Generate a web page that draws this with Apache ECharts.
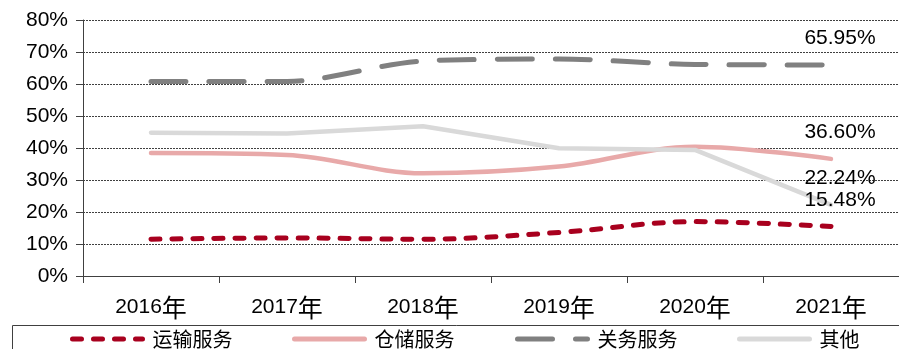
<!DOCTYPE html>
<html><head><meta charset="utf-8">
<script src="https://cdn.jsdelivr.net/npm/echarts@6/dist/echarts.min.js"></script>
<style>html,body{margin:0;padding:0;background:#fff}#c{width:899px;height:349px}</style>
</head><body><div id="c"></div>
<script>
const categories = ['2016年','2017年','2018年','2019年','2020年','2021年'];
const transport = [11.5, 11.9, 11.5, 13.6, 17.0, 15.48];
const storage = [38.4, 37.8, 32.1, 34.2, 40.4, 36.60];
const customs = [60.8, 60.8, 67.2, 67.8, 66.1, 65.95];
const others = [44.8, 44.5, 46.8, 39.9, 39.4, 22.24];
const seriesNames = ['运输服务','仓储服务','关务服务','其他'];
const yTicks = [0, 10, 20, 30, 40, 50, 60, 70, 80];

const FONT = '"Liberation Sans", Arial, sans-serif';
const chart = echarts.init(document.getElementById('c'), null, {renderer:'canvas'});
function endLabel() {
  return {
    show: true, position: 'top', distance: 16, offset: [9, 0],
    color: '#000', fontSize: 21, fontFamily: FONT,
    formatter: p => p.dataIndex === categories.length - 1 ? p.value.toFixed(2) + '%' : ''
  };
}
function mk(name, data, color, width, dash, smooth) {
  return {
    name, type: 'line', data, smooth, symbol: 'circle', symbolSize: 0, showSymbol: true,
    lineStyle: {color, width, type: dash, cap: 'round'},
    itemStyle: {color},
    label: endLabel(), z: 3
  };
}
const legendXs = [70, 292, 515, 737];
chart.setOption({
  animation: false,
  grid: {left: 83, top: 20, width: 824, height: 256},
  xAxis: {
    type: 'category', data: categories,
    axisLine: {lineStyle: {color: '#404040', width: 1}},
    axisTick: {show: true, length: 7, lineStyle: {color: '#404040'}},
    axisLabel: {
      interval: 0,
      color: '#000', fontSize: 21, fontFamily: FONT, margin: 19,
      formatter: v => '{a|' + v.slice(0, 4) + '}{b|' + v.slice(4) + '}',
      rich: {
        a: {fontSize: 21, fontFamily: FONT, color: '#000'},
        b: {fontSize: 25, fontFamily: '"Noto Sans CJK SC", sans-serif', color: '#000'}
      }
    }
  },
  yAxis: {
    type: 'value', min: yTicks[0], max: yTicks[yTicks.length-1], interval: 10,
    axisLine: {show: true, lineStyle: {color: '#404040', width: 1}},
    axisTick: {show: true, length: 7, lineStyle: {color: '#404040'}},
    axisLabel: {color: '#000', fontSize: 21, fontFamily: FONT, margin: 15, formatter: '{value}%'},
    splitLine: {show: true, lineStyle: {color: '#404040', width: 1, type: [2, 1]}}
  },
  graphic: [{
    type: 'rect', shape: {x: 12.5, y: 325.5, width: 900, height: 40},
    style: {fill: 'none', stroke: '#404040', lineWidth: 1}, z: -1
  }],
  legend: seriesNames.map((n, i) => ({
    data: [n], left: legendXs[i], top: 329, padding: 0,
    itemWidth: 70, itemHeight: 14, itemGap: 0,
    itemStyle: {opacity: 0},
    lineStyle: {width: 5, cap: 'round'},
    textStyle: {color: '#000', fontSize: 20, fontFamily: '"Noto Sans CJK SC", sans-serif', padding: [0,0,0,5]}
  })),
  series: [
    mk(seriesNames[0], transport, '#A8001E', 5, [9, 12], 0.35),
    mk(seriesNames[1], storage, '#E8A9A9', 4.5, 'solid', 0.35),
    mk(seriesNames[2], customs, '#808080', 5, [35, 23], 0.3),
    mk(seriesNames[3], others, '#D9D9D9', 4.5, 'solid', false)
  ]
});
</script></body></html>
